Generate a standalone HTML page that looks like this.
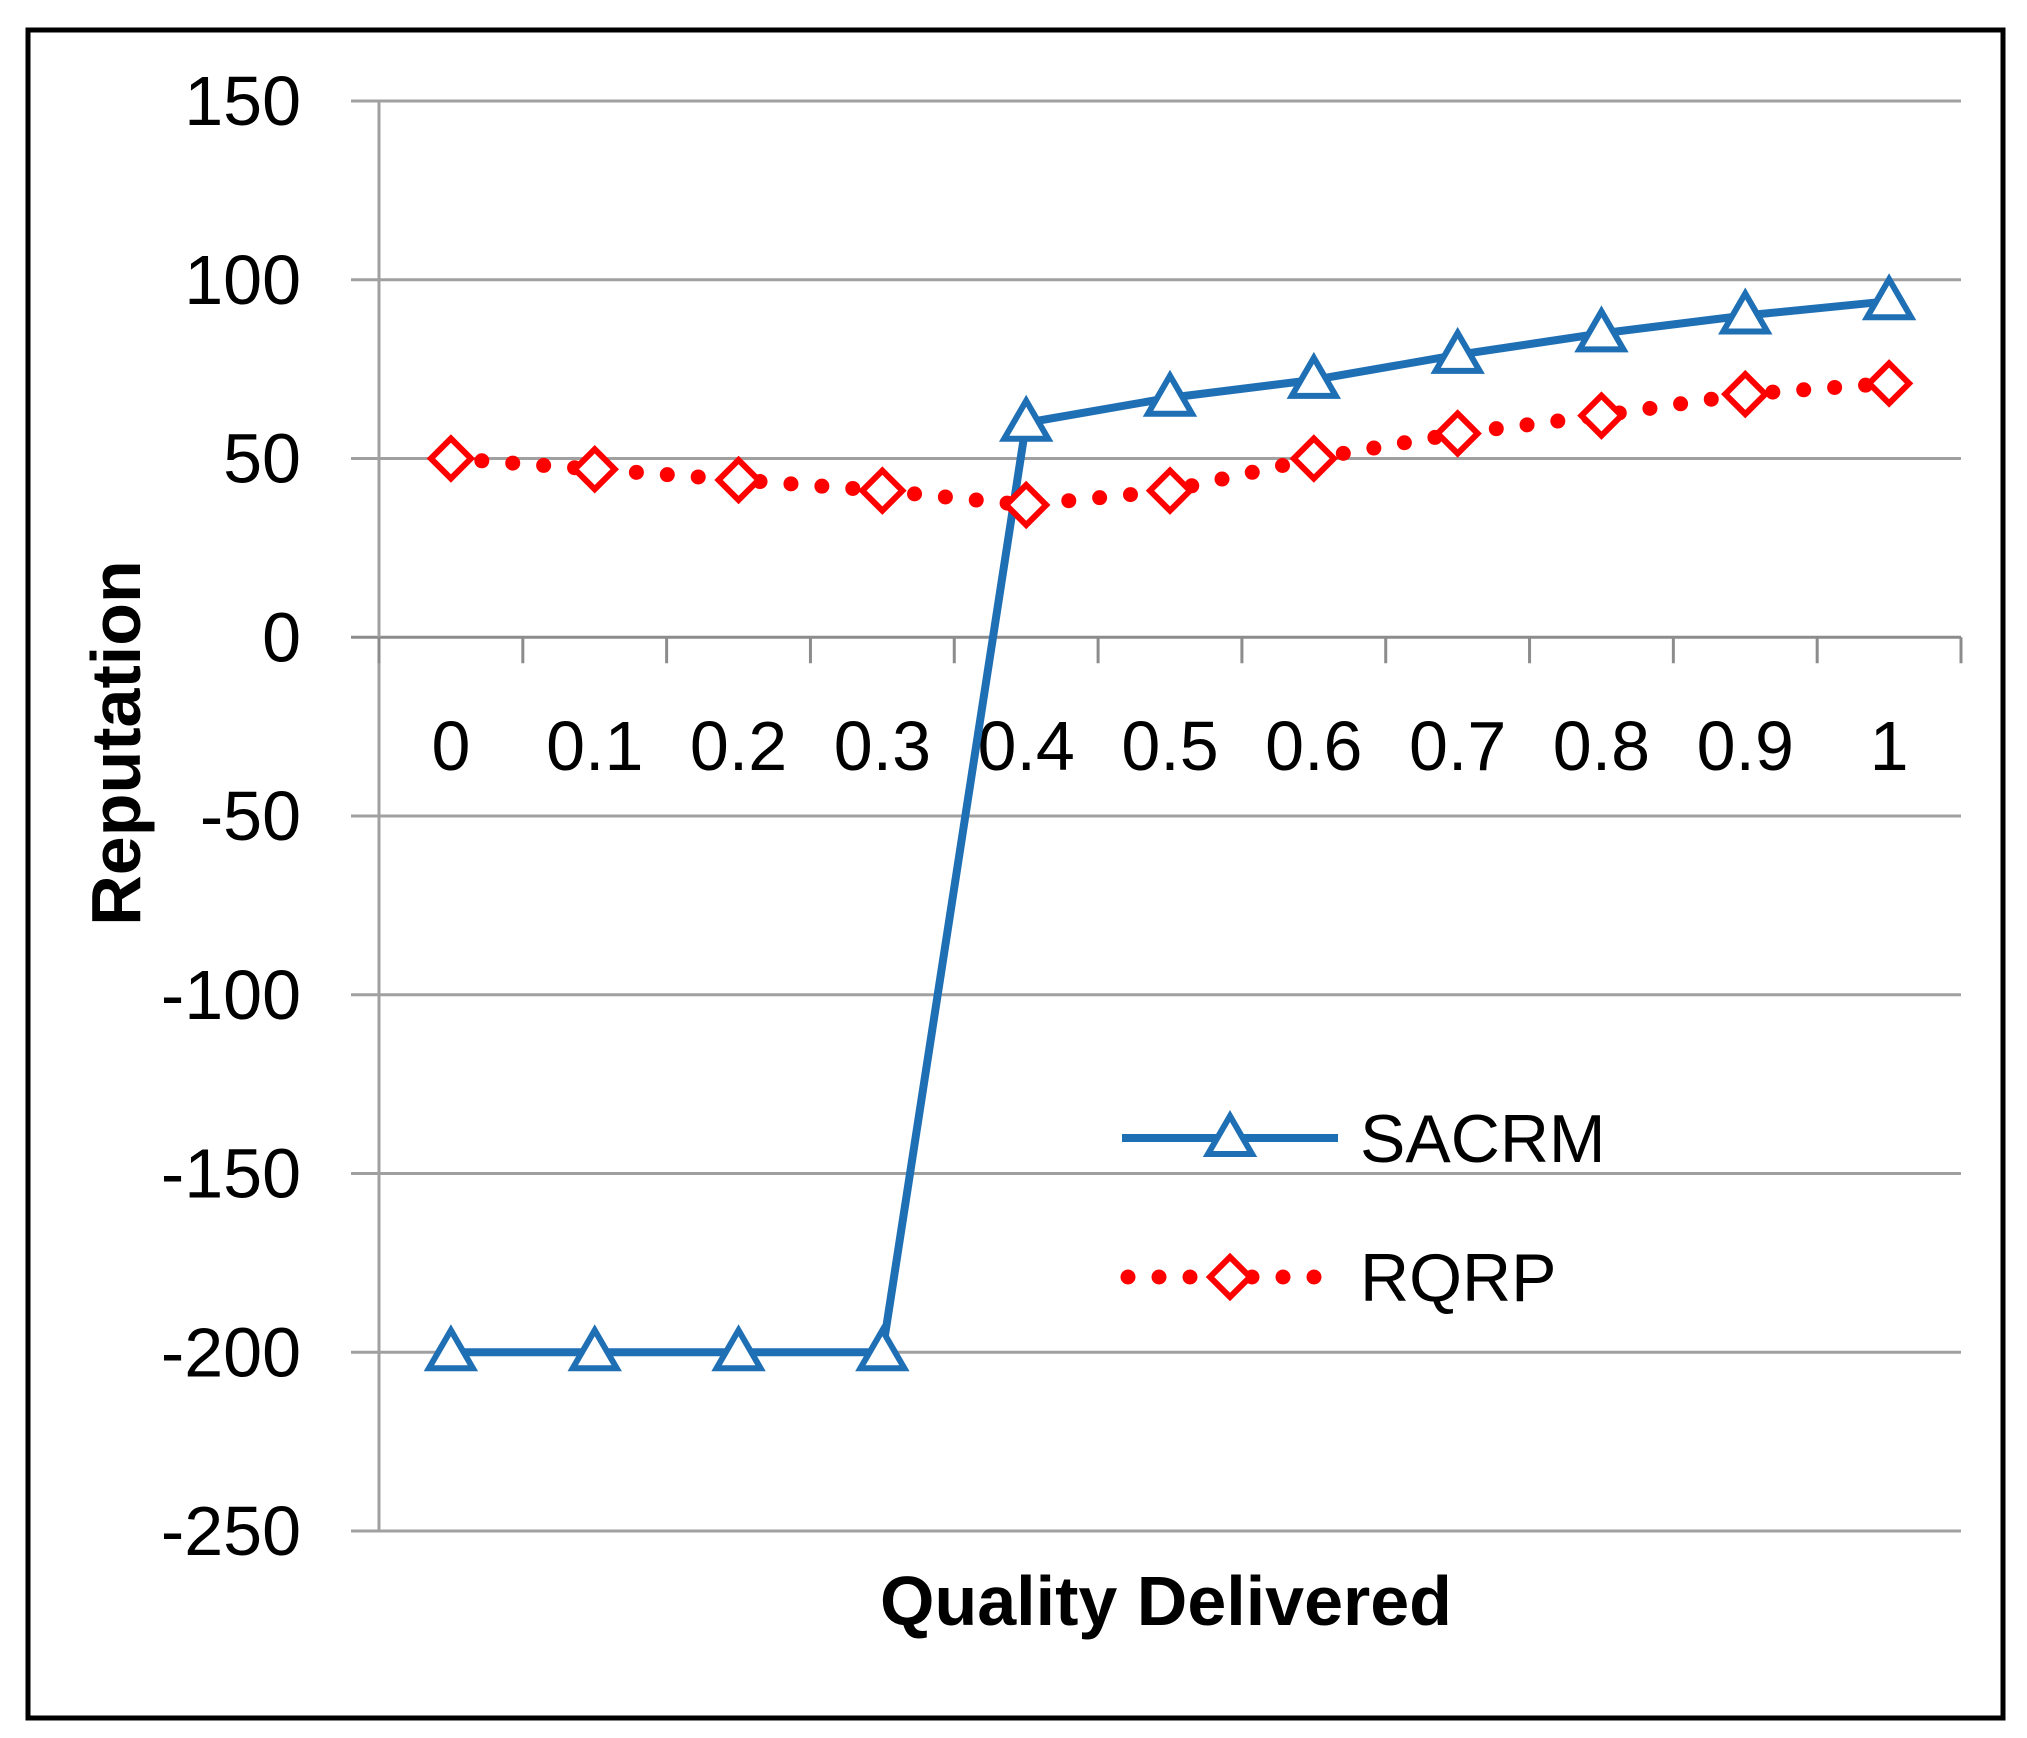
<!DOCTYPE html>
<html><head><meta charset="utf-8"><style>
html,body{margin:0;padding:0;background:#fff}
svg{display:block}
</style></head><body>
<svg id="chart" width="2027" height="1738" viewBox="0 0 2027 1738" xmlns="http://www.w3.org/2000/svg" font-family="'Liberation Sans', sans-serif">
<rect x="28" y="30" width="1975" height="1688" fill="#fff" stroke="#000" stroke-width="5"/>
<g id="grid"></g>
<g id="yticks"></g>
<g id="xaxis"></g>
<g id="series"></g>
<text x="0" y="0" transform="translate(140,743) rotate(-90)" text-anchor="middle" font-size="70" font-weight="bold" fill="#000">Reputation</text>
<text x="1166" y="1625" text-anchor="middle" font-size="70" font-weight="bold" fill="#000">Quality Delivered</text>
<g>
  <g>
    <line x1="1122" y1="1138" x2="1338" y2="1138" stroke="#1f6fb5" stroke-width="8"/>
    <path d="M1230,1116 L1252,1154 L1208,1154 Z" fill="#fff" stroke="#1f6fb5" stroke-width="6" stroke-linejoin="miter"/>
    <text x="1360" y="1162" font-size="68" fill="#000">SACRM</text>
  </g>
  <g>
    <line x1="1128" y1="1277" x2="1330" y2="1277" stroke="#ff0000" stroke-width="15" stroke-linecap="round" stroke-dasharray="0 31"/>
    <path d="M1230,1257 L1250,1277 L1230,1297 L1210,1277 Z" fill="#fff" stroke="#ff0000" stroke-width="6"/>
    <text x="1360" y="1301" font-size="68" fill="#000">RQRP</text>
  </g>
</g>
</svg>
<script>
const categories = ["0","0.1","0.2","0.3","0.4","0.5","0.6","0.7","0.8","0.9","1"];
const sacrmValues = [-200,-200,-200,-200,60,67,72,79,85,90,94];
const rqrpValues = [50,47,44,41,37,41,50,57,62,68,71];
const yTicks = [150,100,50,0,-50,-100,-150,-200,-250];

const NS = "http://www.w3.org/2000/svg";
const plotL = 379, plotR = 1961, yTop = 101, yBot = 1531;
const yMax = 150, yMin = -250;
function yScale(v){ return yTop + (yMax - v) / (yMax - yMin) * (yBot - yTop); }
const band = (plotR - plotL) / categories.length;
function xScale(i){ return plotL + band * (i + 0.5); }
function mk(tag, attrs, parent){ const e = document.createElementNS(NS, tag); for (const k in attrs) e.setAttribute(k, attrs[k]); parent.appendChild(e); return e; }

const grid = document.getElementById('grid');
const yt = document.getElementById('yticks');
yTicks.forEach(v => {
  const y = yScale(v);
  const l = mk('line', {x1: plotL - 28, x2: plotR, y1: y, y2: y, stroke: v === 0 ? '#8c8c8c' : '#a0a0a0', 'stroke-width': 3}, grid);
  
  
  const t = mk('text', {x: 301, y: y, 'text-anchor': 'end', 'dominant-baseline': 'central', 'font-size': 70, fill: '#000'}, yt);
  t.textContent = String(v);
  
  
});
const va = mk('line', {x1: plotL, x2: plotL, y1: yTop, y2: yBot, stroke: '#a0a0a0', 'stroke-width': 3}, grid);



const xa = document.getElementById('xaxis');
const y0 = yScale(0);
for (let i = 0; i <= categories.length; i++) {
  const x = plotL + band * i;
  const tk = mk('line', {x1: x, x2: x, y1: y0, y2: y0 + 26, stroke: '#8c8c8c', 'stroke-width': 3}, xa);
  
  
}
categories.forEach((c, i) => {
  const t = mk('text', {x: xScale(i), y: 770, 'text-anchor': 'middle', 'font-size': 70, fill: '#000'}, xa);
  t.textContent = c;
  
  
});

const sg = document.getElementById('series');
const rqPts = rqrpValues.map((v, i) => xScale(i) + ',' + yScale(v)).join(' ');
const rl = mk('polyline', {points: rqPts, fill: 'none', stroke: '#ff0000', 'stroke-width': 15, 'stroke-linecap': 'round', 'stroke-dasharray': '0 31'}, sg);


const saPts = sacrmValues.map((v, i) => xScale(i) + ',' + yScale(v)).join(' ');
const sl = mk('polyline', {points: saPts, fill: 'none', stroke: '#1f6fb5', 'stroke-width': 8, 'stroke-linejoin': 'round'}, sg);


rqrpValues.forEach((v, i) => {
  const x = xScale(i), y = yScale(v);
  const d = mk('path', {d: `M${x},${y-20} L${x+20},${y} L${x},${y+20} L${x-20},${y} Z`, fill: '#fff', stroke: '#ff0000', 'stroke-width': 6}, sg);
  
  
});
sacrmValues.forEach((v, i) => {
  const x = xScale(i), y = yScale(v);
  const p = mk('path', {d: `M${x},${y-22} L${x+22},${y+16} L${x-22},${y+16} Z`, fill: '#fff', stroke: '#1f6fb5', 'stroke-width': 6}, sg);
  
  
});
</script>
</body></html>
